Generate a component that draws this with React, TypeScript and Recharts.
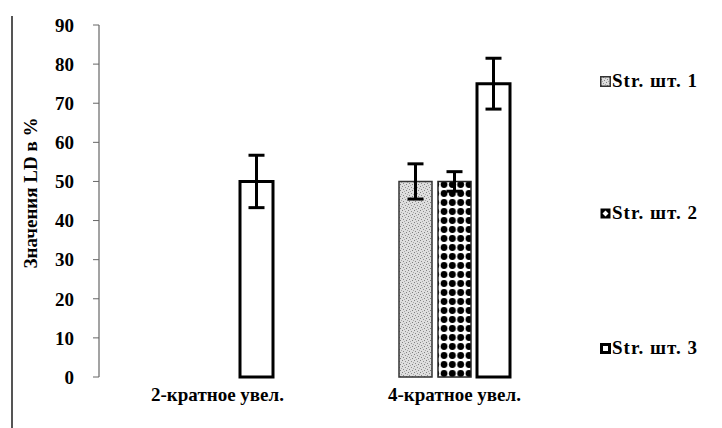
import React from 'react';
import { BarChart, Bar, XAxis, YAxis, ErrorBar } from 'recharts';

const categories = ['2-кратное увел.', '4-кратное увел.'];
const str1: (number | null)[] = [null, 50];
const str2: (number | null)[] = [null, 50];
const str3: (number | null)[] = [50, 75];
const str1Err: (number | null)[] = [null, 4.5];
const str2Err: (number | null)[] = [null, 2.5];
const str3Err: (number | null)[] = [6.7, 6.5];
const seriesNames = ['Str. шт. 1', 'Str. шт. 2', 'Str. шт. 3'];
const yTicks = [0, 10, 20, 30, 40, 50, 60, 70, 80, 90];
const boundaryTicks = [0, 1, 2];

const data = categories.map((c, i) => ({
  cat: c,
  s1: str1[i],
  s2: str2[i],
  s3: str3[i],
  e1: str1Err[i],
  e2: str2Err[i],
  e3: str3Err[i],
}));

const FONT = '"Liberation Serif", "Times New Roman", serif';
const FS = 19;

const fills = ['url(#pStipple)', 'url(#pDots)', '#ffffff'];
const strokes = ['#333', '#222', '#000'];
const strokeWidths = [1.5, 1.5, 3];
const legendTops = [81, 213, 348];

function Patterns() {
  return (
    <svg width={0} height={0} style={{ position: 'absolute' }}>
      <defs>
        <pattern id="pStipple" width={6} height={6} patternUnits="userSpaceOnUse">
          <rect width={6} height={6} fill="#dedede" />
          <rect x={0} y={0} width={1} height={1} fill="#808080" />
          <rect x={3} y={1} width={1} height={1} fill="#909090" />
          <rect x={1} y={3} width={1} height={1} fill="#888" />
          <rect x={4} y={4} width={1} height={1} fill="#808080" />
          <rect x={5} y={2} width={1} height={1} fill="#a8a8a8" />
          <rect x={2} y={5} width={1} height={1} fill="#a8a8a8" />
        </pattern>
        <pattern id="pDots" width={8.3} height={9} patternUnits="userSpaceOnUse">
          <rect width={8.3} height={9} fill="#ffffff" />
          <circle cx={4.15} cy={4.5} r={3.4} fill="#000" />
        </pattern>
      </defs>
    </svg>
  );
}

function LegendMarker({ i }: { i: number }) {
  return (
    <svg width={11} height={11} style={{ display: 'inline-block', marginRight: 1 }}>
      {i === 1 ? (
        <>
          <rect x={0.5} y={0.5} width={10} height={10} fill="#000" />
          <path d="M5.5 2.5 L8.5 5.5 L5.5 8.5 L2.5 5.5 Z" fill="#fff" />
        </>
      ) : (
        <rect
          x={i === 2 ? 1.5 : 0.75}
          y={i === 2 ? 1.5 : 0.75}
          width={i === 2 ? 8 : 9.5}
          height={i === 2 ? 8 : 9.5}
          fill={fills[i]}
          stroke={strokes[i]}
          strokeWidth={i === 2 ? 3 : 1.5}
        />
      )}
    </svg>
  );
}

export default function App() {
  return (
    <div
      style={{
        position: 'absolute',
        left: 0,
        top: 0,
        width: 722,
        height: 428,
        background: '#fff',
        overflow: 'hidden',
      }}
    >
      <Patterns />
      <div
        style={{
          position: 'absolute',
          left: 11,
          top: 16,
          width: 1.5,
          height: 412,
          background: '#555',
        }}
      />
      <BarChart
        width={722}
        height={428}
        data={data}
        margin={{ top: 25, right: 149, left: 0, bottom: 21 }}
        barSize={33}
        barGap={6}
      >
        <XAxis
          xAxisId="b"
          type="number"
          domain={[0, 2]}
          ticks={boundaryTicks}
          height={0}
          tickFormatter={() => ''}
          tickLine={{ stroke: '#666', strokeWidth: 1 }}
          tickSize={5}
          axisLine={{ stroke: '#666', strokeWidth: 1.2 }}
        />
        <XAxis
          dataKey="cat"
          height={30}
          axisLine={false}
          tickLine={false}
          tickSize={0}
          tickMargin={11}
          tick={{ fontFamily: FONT, fontSize: FS, fontWeight: 'bold', fill: '#000' }}
        />
        <YAxis
          width={99}
          domain={[0, 90]}
          ticks={yTicks}
          interval={0}
          tickSize={6}
          tickMargin={19}
          axisLine={{ stroke: '#666', strokeWidth: 1.2 }}
          tickLine={{ stroke: '#666' }}
          tick={{ fontFamily: FONT, fontSize: FS, fontWeight: 'bold', fill: '#000' }}
          label={{
            content: (props: any) => {
              const vb = props.viewBox || {};
              const cx = (vb.x || 0) + 30;
              const cy = (vb.y || 0) + (vb.height || 0) / 2 - 8;
              return (
                <text
                  x={cx}
                  y={cy}
                  transform={`rotate(-90 ${cx} ${cy})`}
                  textAnchor="middle"
                  dominantBaseline="central"
                  fontFamily={FONT}
                  fontSize={FS}
                  fontWeight="bold"
                  fill="#000"
                >
                  Значения LD в %
                </text>
              );
            },
          }}
        />
        {(['s1', 's2', 's3'] as const).map((k, i) => (
          <Bar
            key={k}
            dataKey={k}
            name={seriesNames[i]}
            fill={fills[i]}
            stroke={strokes[i]}
            strokeWidth={strokeWidths[i]}
            isAnimationActive={false}
          >
            <ErrorBar
              dataKey={`e${i + 1}`}
              width={8}
              strokeWidth={3}
              stroke="#000"
              isAnimationActive={false}
            />
          </Bar>
        ))}
      </BarChart>
      {seriesNames.map((n, i) => (
        <div
          key={n}
          style={{
            position: 'absolute',
            left: 600,
            top: legendTops[i] - 12,
            height: 24,
            display: 'flex',
            alignItems: 'center',
            fontFamily: FONT,
            fontSize: FS,
            fontWeight: 'bold',
            letterSpacing: 1,
            color: '#000',
            whiteSpace: 'nowrap',
          }}
        >
          <LegendMarker i={i} />
          <span>{n}</span>
        </div>
      ))}
    </div>
  );
}
